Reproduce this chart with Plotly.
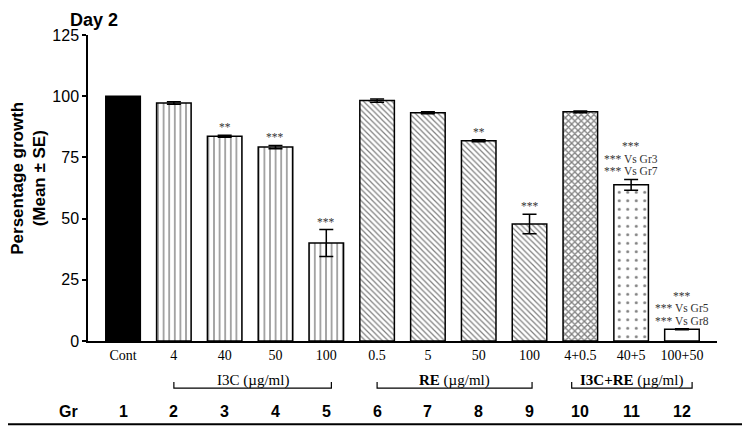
import plotly.graph_objects as go

# group numbers, dose labels, mean % growth and SE
groups = [1, 2, 3, 4, 5, 6, 7, 8, 9, 10, 11, 12]
doses = ["Cont", "4", "40", "50", "100", "0.5", "5", "50", "100",
         "4+0.5", "40+5", "100+50"]
means = [100.0, 97.2, 83.6, 79.2, 40.0, 98.2, 93.2, 81.8, 47.8, 93.6, 63.8, 4.8]
se = [0.0, 0.5, 0.4, 0.7, 5.5, 0.7, 0.4, 0.4, 4.0, 0.4, 2.2, 0.2]
stars = [[], [], ["**"], ["***"], ["***"], [], [], ["**"], ["***"], [],
         ["***", "*** Vs Gr3", "*** Vs Gr7"], ["***", "*** Vs Gr5", "*** Vs Gr8"]]

# fill patterns per group
shapes = ["", "|", "|", "|", "|", "\\", "\\", "\\", "\\", "x", ".", ""]
pat_size = [6, 5.6, 5.6, 5.6, 5.6, 4, 4, 4, 4, 4.5, 8.5, 6]
pat_solid = [0.2, 0.24, 0.24, 0.24, 0.24, 0.3, 0.3, 0.3, 0.3, 0.5, 0.1, 0.2]
fills = ["black"] + ["white"] * 11

# treatment brackets under the axis: (label, left end, right end)
brackets = [
    ("I3C (µg/ml)", 2, 5.1),
    ("<b>RE</b> (µg/ml)", 6, 9.05),
    ("<b>I3C+RE</b> (µg/ml)", 9.83, 12.2),
]

SERIF = "Liberation Serif"
SANS = "Liberation Sans"

fig = go.Figure()
for i, g in enumerate(groups):
    marker = dict(color=fills[i], line=dict(color="black", width=1.5))
    if shapes[i]:
        marker["pattern"] = dict(shape=shapes[i], size=pat_size[i],
                                 solidity=pat_solid[i], fgcolor="black",
                                 bgcolor="white")
    fig.add_trace(go.Bar(
        x=[g], y=[means[i]], width=0.68, marker=marker,
        error_y=dict(type="data", array=[se[i]], visible=se[i] > 0,
                     color="black", thickness=1.5, width=7),
        showlegend=False,
    ))

# significance marks, stacked line by line above the error bar
for g, m, s, lines in zip(groups, means, se, stars):
    for j, txt in enumerate(reversed(lines)):
        fig.add_annotation(x=g, y=m + s, text=txt, showarrow=False,
                           yanchor="bottom", yshift=j * 12.5, align="center",
                           font=dict(family=SERIF, size=11.5, color="#333"))

for label, x0, x1 in brackets:
    fig.add_shape(type="path", xref="x", yref="paper",
                  path=f"M {x0} -0.134 L {x0} -0.154 L {x1} -0.154 L {x1} -0.134",
                  line=dict(color="black", width=1.2))
    fig.add_annotation(x=(x0 + x1) / 2, y=-0.128, xref="x", yref="paper",
                       text=label, showarrow=False, yanchor="middle",
                       font=dict(family=SERIF, size=15, color="black"))

# group number row
fig.add_annotation(x=-0.012, y=-0.232, xref="paper", yref="paper", text="<b>Gr</b>",
                   showarrow=False, xanchor="right", yanchor="middle",
                   font=dict(family=SANS, size=16, color="black"))
for g in groups:
    fig.add_annotation(x=g, y=-0.232, xref="x", yref="paper", text=f"<b>{g}</b>",
                       showarrow=False, yanchor="middle",
                       font=dict(family=SANS, size=16, color="black"))
fig.add_shape(type="line", xref="paper", yref="paper", x0=-0.15, x1=1.06,
              y0=-0.272, y1=-0.272, line=dict(color="black", width=2))

fig.add_annotation(x=-0.032, y=1.088, xref="paper", yref="paper", text="<b>Day 2</b>",
                   showarrow=False, xanchor="left", yanchor="top",
                   font=dict(family=SANS, size=18, color="black"))
fig.add_annotation(x=-0.094, y=0.533, xref="paper", yref="paper",
                   text="<b>Persentage growth<br>(Mean ± SE)</b>", textangle=-90,
                   showarrow=False, xanchor="center", yanchor="middle",
                   font=dict(family=SANS, size=17, color="black"))

fig.update_xaxes(range=[0.31, 12.69], tickvals=groups, ticktext=doses,
                 showline=True, linecolor="black", linewidth=1.5, ticks="",
                 showgrid=False, zeroline=False,
                 tickfont=dict(family=SERIF, size=14, color="black"))
fig.update_yaxes(range=[0, 125], tickvals=[0, 25, 50, 75, 100, 125],
                 showline=True, linecolor="black", linewidth=1.5, ticks="outside",
                 ticklen=4, tickcolor="black", tickwidth=1.5, showgrid=False,
                 zeroline=False,
                 tickfont=dict(family=SANS, size=16, color="black"))
# page body has an 8px margin, so the figure is drawn 8px smaller
fig.update_layout(
    width=742, height=418, plot_bgcolor="white", paper_bgcolor="white",
    margin=dict(l=80, r=33, t=27, b=85), barmode="overlay",
)
fig.write_html("out.html")
